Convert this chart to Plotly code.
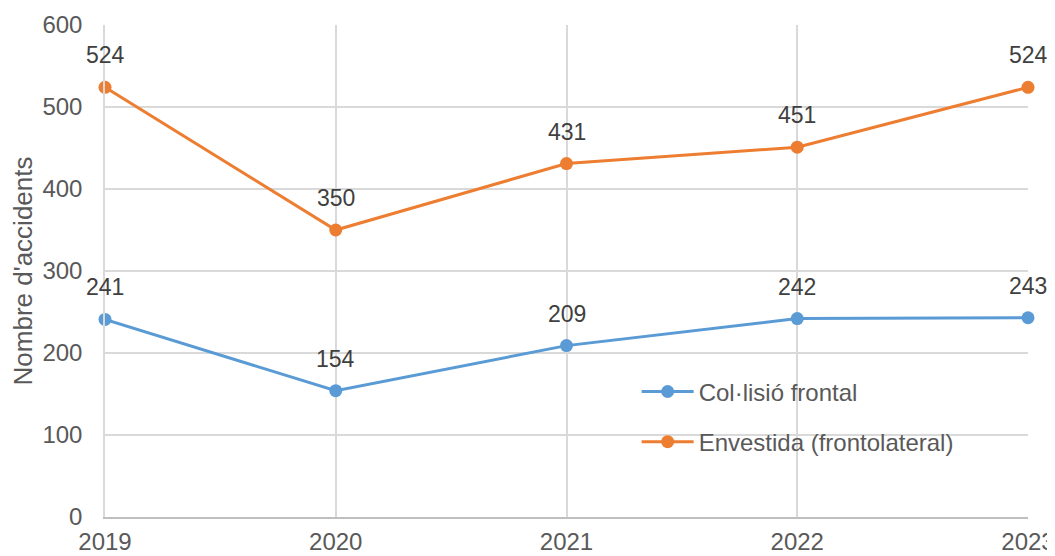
import plotly.graph_objects as go

years = [2019, 2020, 2021, 2022, 2023]
frontal = [241, 154, 209, 242, 243]
envestida = [524, 350, 431, 451, 524]

names = ["Col·lisió frontal", "Envestida (frontolateral)"]
colors = ["#5B9BD5", "#ED7D31"]

font_family = "Liberation Sans, Arial, sans-serif"
fs = 24

fig = go.Figure()
annotations = []
for i, (name, vals) in enumerate(zip(names, [frontal, envestida])):
    fig.add_trace(go.Scatter(
        x=years, y=vals, name=name,
        mode="lines+markers",
        line=dict(color=colors[i], width=3),
        marker=dict(color=colors[i], size=13),
        cliponaxis=False,
        legendgroup=f"g{i}",
    ))
    # data labels above each point
    for x, v in zip(years, vals):
        annotations.append(dict(
            x=x, y=v, text=str(v), showarrow=False,
            yshift=32, yanchor="middle",
            font=dict(size=fs - 1, color="#404040", family=font_family),
        ))

# page body adds an 8px offset, so the figure is sized a bit smaller
fig.update_layout(
    width=1047, height=548,
    paper_bgcolor="white", plot_bgcolor="white",
    font=dict(family=font_family, size=fs, color="#595959"),
    margin=dict(l=97, r=27, t=17, b=39),
    showlegend=True,
    annotations=annotations,
    legend=dict(
        x=0.576, y=0.3, xanchor="left", yanchor="top",
        bgcolor="rgba(0,0,0,0)", tracegroupgap=16,
        font=dict(size=fs, color="#595959"),
        itemwidth=52,
    ),
    xaxis=dict(
        range=[2019, 2023], tickvals=years, ticktext=[str(y) for y in years],
        showgrid=True, gridcolor="#D9D9D9", gridwidth=1.5,
        showline=True, linecolor="#BFBFBF", linewidth=1.5,
        zeroline=False, ticks="", ticklabelstandoff=2, automargin=False,
    ),
    yaxis=dict(
        range=[0, 600], dtick=100,
        showgrid=True, gridcolor="#D9D9D9", gridwidth=1.5,
        showline=True, linecolor="#D9D9D9", linewidth=1.5,
        zeroline=False, ticks="", ticklabelstandoff=16, automargin=False,
        title=dict(text="Nombre d'accidents", font=dict(size=26, color="#595959"), standoff=11),
    ),
)

fig.write_html("out.html")
